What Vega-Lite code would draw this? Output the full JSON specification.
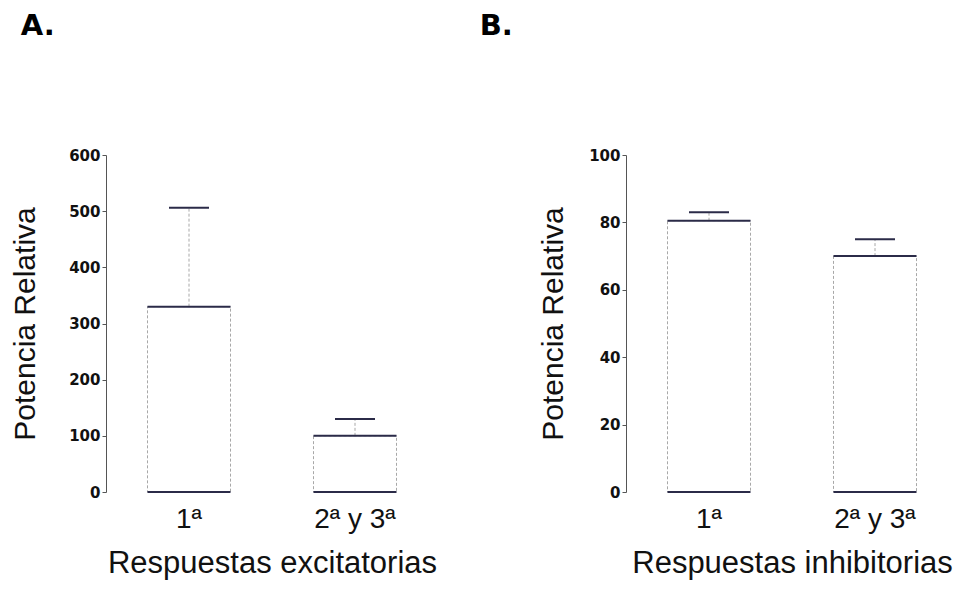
{
  "$schema": "https://vega.github.io/schema/vega-lite/v6.json",
  "background": "white",
  "padding": {"left": 10, "top": 12, "right": 5, "bottom": 5},
  "spacing": 41,
  "config": {"view": {"stroke": null}},
  "datasets": {
    "excitatorias": [
      {"respuesta": "1ª", "potencia": 330, "error_sup": 506},
      {"respuesta": "2ª y 3ª", "potencia": 100, "error_sup": 130}
    ],
    "inhibitorias": [
      {"respuesta": "1ª", "potencia": 80.5, "error_sup": 83},
      {"respuesta": "2ª y 3ª", "potencia": 70, "error_sup": 75}
    ]
  },
  "hconcat": [
    {
      "width": 332,
      "height": 337,
      "title": {"text": "A.", "anchor": "start", "frame": "bounds", "dx": 10, "offset": 107, "fontSize": 29, "font": "DejaVu Sans", "fontWeight": "bold", "color": "#000000"},
      "data": {"name": "excitatorias"},
      "encoding": {
        "x": {"field": "respuesta", "type": "nominal", "sort": null,
          "scale": {"paddingInner": 0.5, "paddingOuter": 0.25},
          "axis": {"title": "Respuestas excitatorias", "labelAngle": 0, "domain": false, "ticks": false, "tickSize": 0, "labelPadding": 13, "labelFont": "Liberation Sans", "labelFontSize": 28, "labelColor": "#111111", "titleFont": "Liberation Sans", "titleFontSize": 31, "titleFontWeight": "normal", "titleColor": "#111111", "titlePadding": 15}}
      },
      "layer": [
        {"mark": {"type": "bar", "fill": "white", "stroke": "#a8a8a8", "strokeWidth": 1, "strokeDash": [3, 2]},
         "encoding": {"y": {"field": "potencia", "type": "quantitative", "title": "Potencia Relativa",
           "scale": {"domain": [0, 600], "nice": false},
           "axis": {"values": [0, 100, 200, 300, 400, 500, 600], "grid": false, "domainColor": "#555555", "tickColor": "#555555", "tickSize": 4, "labelPadding": 2, "labelFont": "DejaVu Sans", "labelFontWeight": "bold", "labelFontSize": 15, "labelColor": "#111111", "titleFont": "Liberation Sans", "titleFontSize": 30, "titleFontWeight": "normal", "titleColor": "#111111", "titlePadding": 28}}}},
        {"mark": {"type": "rule", "stroke": "#a8a8a8", "strokeWidth": 1, "strokeDash": [3, 2]},
         "encoding": {"y": {"field": "potencia", "type": "quantitative", "title": "Potencia Relativa"}, "y2": {"field": "error_sup"}}},
        {"mark": {"type": "tick", "orient": "horizontal", "size": 40, "thickness": 2, "color": "#2b2b48", "opacity": 1},
         "encoding": {"y": {"field": "error_sup", "type": "quantitative", "title": "Potencia Relativa"}}},
        {"mark": {"type": "tick", "orient": "horizontal", "size": 83, "thickness": 2, "color": "#2b2b48", "opacity": 1},
         "encoding": {"y": {"field": "potencia", "type": "quantitative", "title": "Potencia Relativa"}}},
        {"mark": {"type": "tick", "orient": "horizontal", "size": 83, "thickness": 2, "color": "#2b2b48", "opacity": 1},
         "encoding": {"y": {"datum": 0, "type": "quantitative", "title": "Potencia Relativa"}}}
      ]
    },
    {
      "width": 332,
      "height": 337,
      "title": {"text": "B.", "anchor": "start", "frame": "bounds", "dx": -59, "offset": 107, "fontSize": 29, "font": "DejaVu Sans", "fontWeight": "bold", "color": "#000000"},
      "data": {"name": "inhibitorias"},
      "encoding": {
        "x": {"field": "respuesta", "type": "nominal", "sort": null,
          "scale": {"paddingInner": 0.5, "paddingOuter": 0.25},
          "axis": {"title": "Respuestas inhibitorias", "labelAngle": 0, "domain": false, "ticks": false, "tickSize": 0, "labelPadding": 13, "labelFont": "Liberation Sans", "labelFontSize": 28, "labelColor": "#111111", "titleFont": "Liberation Sans", "titleFontSize": 31, "titleFontWeight": "normal", "titleColor": "#111111", "titlePadding": 15}}
      },
      "layer": [
        {"mark": {"type": "bar", "fill": "white", "stroke": "#a8a8a8", "strokeWidth": 1, "strokeDash": [3, 2]},
         "encoding": {"y": {"field": "potencia", "type": "quantitative", "title": "Potencia Relativa",
           "scale": {"domain": [0, 100], "nice": false},
           "axis": {"values": [0, 20, 40, 60, 80, 100], "grid": false, "domainColor": "#555555", "tickColor": "#555555", "tickSize": 4, "labelPadding": 2, "labelFont": "DejaVu Sans", "labelFontWeight": "bold", "labelFontSize": 15, "labelColor": "#111111", "titleFont": "Liberation Sans", "titleFontSize": 30, "titleFontWeight": "normal", "titleColor": "#111111", "titlePadding": 20}}}},
        {"mark": {"type": "rule", "stroke": "#a8a8a8", "strokeWidth": 1, "strokeDash": [3, 2]},
         "encoding": {"y": {"field": "potencia", "type": "quantitative", "title": "Potencia Relativa"}, "y2": {"field": "error_sup"}}},
        {"mark": {"type": "tick", "orient": "horizontal", "size": 40, "thickness": 2, "color": "#2b2b48", "opacity": 1},
         "encoding": {"y": {"field": "error_sup", "type": "quantitative", "title": "Potencia Relativa"}}},
        {"mark": {"type": "tick", "orient": "horizontal", "size": 83, "thickness": 2, "color": "#2b2b48", "opacity": 1},
         "encoding": {"y": {"field": "potencia", "type": "quantitative", "title": "Potencia Relativa"}}},
        {"mark": {"type": "tick", "orient": "horizontal", "size": 83, "thickness": 2, "color": "#2b2b48", "opacity": 1},
         "encoding": {"y": {"datum": 0, "type": "quantitative", "title": "Potencia Relativa"}}}
      ]
    }
  ]
}
